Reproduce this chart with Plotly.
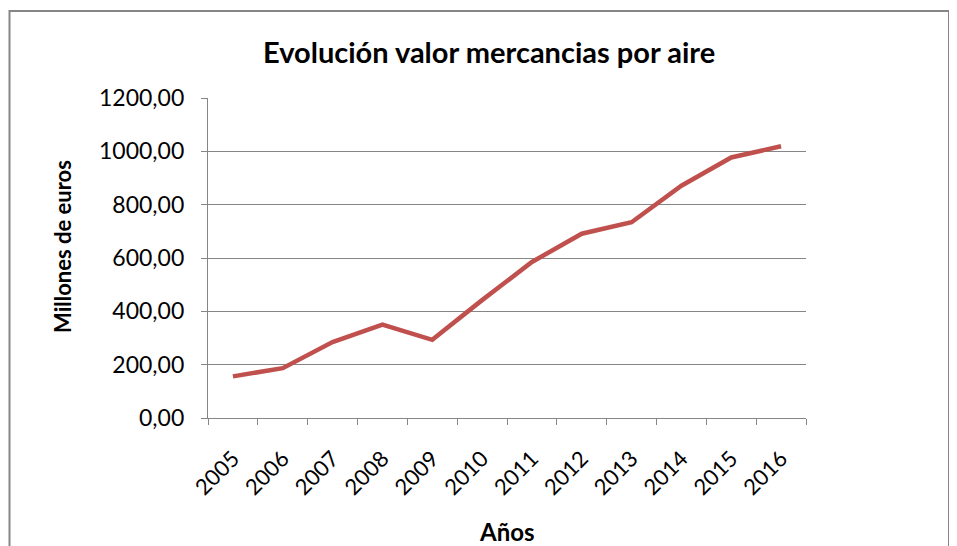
import plotly.graph_objects as go

years = ["2005", "2006", "2007", "2008", "2009", "2010", "2011", "2012", "2013", "2014", "2015", "2016"]
values = [156, 187, 285, 350, 293, 442, 585, 691, 734, 871, 977, 1019]

title_text = "Evolución valor mercancias por aire"
x_title = "Años"
y_title = "Millones de euros"

FONT = "Lato"
GRAY = "#868686"

fig = go.Figure()
fig.add_trace(go.Scatter(
    x=years, y=values, mode="lines",
    line=dict(color="#C0504D", width=4.5),
    hoverinfo="x+y",
))

W, H = 957, 546
OFF = 8  # default page body margin
L, R, T, B = 208, 806, 98, 418  # plot area in page pixels


def px(x):
    return (x - L) / (R - L)


def py(y):
    return (B - y) / (B - T)


fig.update_layout(
    width=W, height=H,
    margin=dict(l=L - OFF, r=W - (R - OFF), t=T - OFF, b=H - (B - OFF), pad=0),
    paper_bgcolor="white", plot_bgcolor="white",
    separators=",.",
    showlegend=False,
    font=dict(family=FONT, color="black", size=22),
    xaxis=dict(
        type="category", range=[-0.5, 11.5], tickson="boundaries",
        showline=True, linecolor=GRAY, linewidth=1.3,
        ticks="outside", ticklen=6, tickcolor=GRAY, tickwidth=1.3,
        showgrid=False, tickangle=-45, zeroline=False,
        tickfont=dict(family=FONT, size=22),
        ticklabelstandoff=18,
    ),
    yaxis=dict(
        range=[0, 1200], dtick=200, tickformat=".2f",
        showline=True, linecolor=GRAY, linewidth=1.3,
        ticks="outside", ticklen=6, tickcolor=GRAY, tickwidth=1.3,
        showgrid=True, gridcolor=GRAY, gridwidth=1.3, zeroline=False,
        tickfont=dict(family=FONT, size=23),
        ticklabelstandoff=12,
    ),
    annotations=[
        dict(text="<b>" + title_text + "</b>", xref="paper", yref="paper",
             x=px(489), y=py(52), xanchor="center", yanchor="middle",
             showarrow=False, font=dict(family=FONT, size=29, color="black")),
        dict(text="<b>" + x_title + "</b>", xref="paper", yref="paper",
             x=px(507), y=py(531), xanchor="center", yanchor="middle",
             showarrow=False, font=dict(family=FONT, size=24, color="black")),
        dict(text="<b>" + y_title + "</b>", xref="paper", yref="paper",
             x=px(62), y=py(247), xanchor="center", yanchor="middle", textangle=-90,
             showarrow=False, font=dict(family=FONT, size=22, color="black")),
    ],
    shapes=[dict(
        type="rect", xref="paper", yref="paper",
        x0=px(9.5), x1=px(949),
        y0=py(600), y1=py(11),
        line=dict(color=GRAY, width=2), fillcolor="rgba(0,0,0,0)", layer="below",
    )],
)

fig.write_html("out.html")
